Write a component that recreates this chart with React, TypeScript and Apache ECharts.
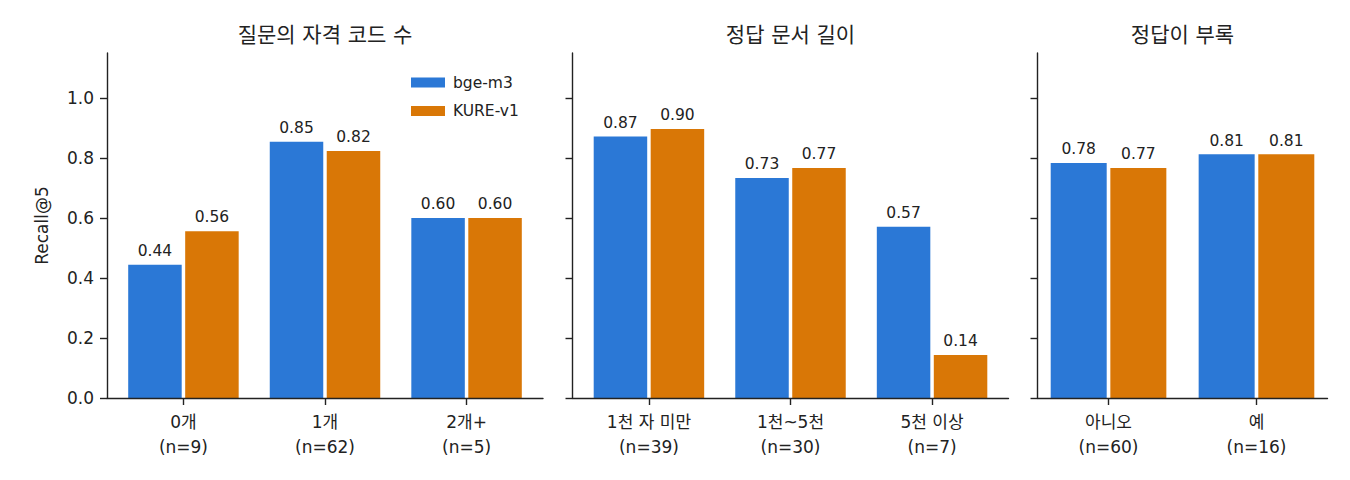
import React, { useEffect, useRef } from "react";
import * as echarts from "echarts";

const models = ["bge-m3", "KURE-v1"];
const panelTitles = ["질문의 자격 코드 수", "정답 문서 길이", "정답이 부록"];
const cats1 = ["0개\n(n=9)", "1개\n(n=62)", "2개+\n(n=5)"];
const cats2 = ["1천 자 미만\n(n=39)", "1천~5천\n(n=30)", "5천 이상\n(n=7)"];
const cats3 = ["아니오\n(n=60)", "예\n(n=16)"];
const bge1 = [0.444, 0.854, 0.6];
const kure1 = [0.556, 0.823, 0.6];
const bge2 = [0.872, 0.733, 0.571];
const kure2 = [0.897, 0.767, 0.143];
const bge3 = [0.783, 0.8125];
const kure3 = [0.767, 0.8125];
const yTicks = [0, 0.2, 0.4, 0.6, 0.8, 1.0];
const yLabel = "Recall@5";

const COLORS = ["#2b78d6", "#d97706"];
const FONT = "'DejaVu Sans', 'Noto Sans CJK KR', sans-serif";
const INK = "#222222";

export default function App() {
  const ref = useRef<HTMLDivElement>(null);
  useEffect(() => {
    if (!ref.current) return;
    const chart = echarts.init(ref.current, null, { renderer: "svg" });
    const panels = [
      { cats: cats1, data: [bge1, kure1], left: 107, width: 436, min: -0.54, max: 2.54, bw: 53.5 },
      { cats: cats2, data: [bge2, kure2], left: 572.5, width: 436, min: -0.54, max: 2.54, bw: 53.5 },
      { cats: cats3, data: [bge3, kure3], left: 1037.5, width: 290, min: -0.48, max: 1.48, bw: 56 },
    ];
    const top = 53;
    const height = 345;
    const grids = panels.map((p) => ({ left: p.left, top, width: p.width, height }));
    const xAxes = panels.map((p, i) => ({
      type: "value",
      gridIndex: i,
      min: p.min,
      max: p.max,
      z: 10,
      splitLine: { show: false },
      axisLine: { show: true, onZero: false, lineStyle: { color: INK, width: 1.4 } },
      axisTick: {
        show: true,
        length: 7,
        customValues: p.cats.map((_, k) => k),
        lineStyle: { color: INK, width: 1.4 },
      },
      axisLabel: {
        customValues: p.cats.map((_, k) => k),
        formatter: (v: number) => p.cats[Math.round(v)] ?? "",
        fontFamily: FONT,
        fontSize: 17,
        lineHeight: 25,
        color: INK,
        margin: 11,
      },
    }));
    const yAxes = panels.map((p, i) => ({
      type: "value",
      gridIndex: i,
      min: 0,
      max: 1.15,
      z: 10,
      splitLine: { show: false },
      name: i === 0 ? yLabel : "",
      nameLocation: "middle",
      nameGap: 57,
      nameTextStyle: { fontFamily: FONT, fontSize: 17, color: INK },
      axisLine: { show: true, onZero: false, lineStyle: { color: INK, width: 1.4 } },
      axisTick: { show: true, length: 7, customValues: yTicks, lineStyle: { color: INK, width: 1.4 } },
      axisLabel: {
        show: i === 0,
        customValues: yTicks,
        formatter: (v: number) => v.toFixed(1),
        fontFamily: FONT,
        fontSize: 17,
        color: INK,
        margin: 13,
      },
    }));
    const series: any[] = [];
    panels.forEach((p, i) => {
      p.data.forEach((vals, j) => {
        series.push({
          type: "bar",
          name: models[j],
          xAxisIndex: i,
          yAxisIndex: i,
          barWidth: p.bw,
          barGap: "6.5%",
          itemStyle: { color: COLORS[j] },
          label: {
            show: true,
            position: "top",
            distance: 6,
            fontFamily: FONT,
            fontSize: 15.5,
            color: INK,
            formatter: (d: any) => Number(d.value[1]).toFixed(2),
          },
          data: vals.map((v, k) => [k, v]),
        });
      });
    });
    const graphic = panels.map((p, i) => ({
      type: "text",
      x: p.left + p.width / 2,
      y: 35,
      style: {
        text: panelTitles[i],
        fontFamily: FONT,
        fontSize: 21,
        fill: INK,
        textAlign: "center",
        textVerticalAlign: "middle",
      },
    }));
    chart.setOption({
      animation: false,
      backgroundColor: "#ffffff",
      grid: grids,
      xAxis: xAxes,
      yAxis: yAxes,
      series,
      graphic,
      legend: {
        data: models,
        orient: "vertical",
        left: 406,
        top: 68.5,
        itemWidth: 34,
        itemHeight: 10,
        itemGap: 10.4,
        icon: "rect",
        textStyle: { fontFamily: FONT, fontSize: 15.5, color: INK, lineHeight: 18, padding: [0, 0, 0, 3] },
      },
    });
    return () => chart.dispose();
  }, []);
  return (
    <div
      ref={ref}
      style={{ position: "fixed", left: 0, top: 0, width: 1350, height: 480, background: "#fff" }}
    />
  );
}
